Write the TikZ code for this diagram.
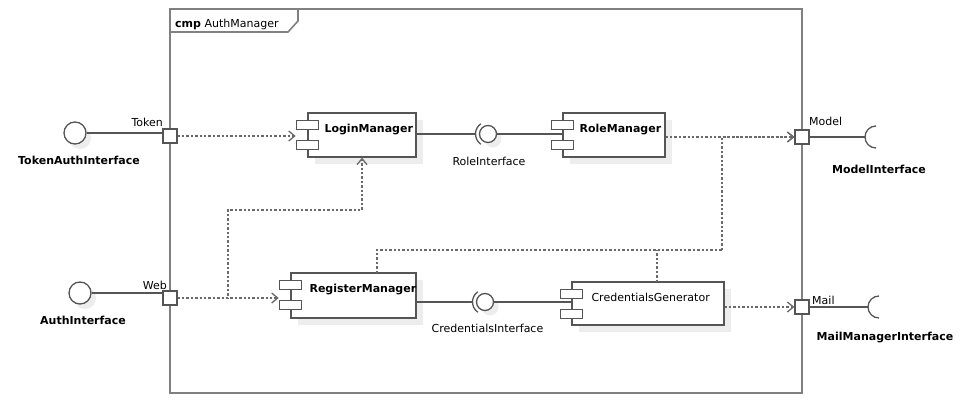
\documentclass[tikz,border=0pt]{standalone}
\usepackage{fontspec}
\setmainfont{DejaVu Sans}
\usetikzlibrary{arrows.meta,calc}
\definecolor{linec}{HTML}{555555}
\definecolor{framec}{HTML}{808080}
\definecolor{dotc}{HTML}{6A6A6A}
\definecolor{shadowc}{HTML}{EDEDED}
\begin{document}
\begin{tikzpicture}[x=1pt,y=-1pt,
  font=\fontsize{11}{13}\selectfont,
  comp/.style={draw=linec, line width=1.3pt, fill=white, inner sep=0,
    preaction={fill=shadowc, transform canvas={xshift=7pt,yshift=-7pt}}},
  icon/.style={draw=linec, line width=1.3pt, fill=white, minimum width=22, minimum height=9, inner sep=0},
  port/.style={draw=linec, line width=1.3pt, fill=white, minimum size=14, inner sep=0},
  lbl/.style={inner sep=0, anchor=base west},
  blbl/.style={inner sep=0, anchor=base west, font=\fontsize{11}{13}\selectfont\bfseries},
  ilbl/.style={inner sep=0, anchor=base},
  iblbl/.style={inner sep=0, anchor=base, font=\fontsize{11}{13}\selectfont\bfseries},
  ball/.style={circle, draw=linec, line width=1.3pt, fill=white, inner sep=0,
    preaction={fill=shadowc, transform canvas={xshift=5pt,yshift=-5pt}}},
  solidc/.style={draw=linec, line width=1.3pt},
  dep/.style={draw=dotc, line width=1.4pt, dash pattern=on 2.4pt off 2pt,
    -{Straight Barb[length=6pt,width=10pt,line width=1.3pt]}},
  depn/.style={draw=dotc, line width=1.4pt, dash pattern=on 2.4pt off 2pt}
]
\useasboundingbox (0,0) rectangle (962,404);
\fill[white] (0,0) rectangle (962,404);

% frame
\draw[framec, line width=2pt] (170,9) rectangle (802,393);
\draw[framec, line width=1.6pt] (170,32) -- (288,32) -- (298,21) -- (298,9);
\node[inner sep=0, anchor=base west] (title) at (175,28) {\textbf{cmp} AuthManager};

% components
\node[comp, minimum width=108, minimum height=44] (login) at (362,135) {};
\node[comp, minimum width=102, minimum height=44] (role) at (614,135) {};
\node[comp, minimum width=125, minimum height=45] (reg) at (353.5,295.5) {};
\node[comp, minimum width=152, minimum height=43] (cred) at (648,303.5) {};

\foreach \c in {login,role,reg,cred}{
  \node[icon] (\c I1) at ($(\c.north west)+(0,12.5)$) {};
  \node[icon] (\c I2) at ($(\c.north west)+(0,32.5)$) {};
}
\node[blbl] (loginL) at ($(login.north west)+(17,20)$) {LoginManager};
\node[blbl] (roleL) at ($(role.north west)+(17,20)$) {RoleManager};
\node[blbl] (regL) at ($(reg.north west)+(19,20)$) {RegisterManager};
\node[lbl] (credL) at ($(cred.north west)+(20,20)$) {CredentialsGenerator};

% ports
\node[port] (tport) at (170,136) {};
\node[port] (wport) at (170,298) {};
\node[port] (mport) at (802,137) {};
\node[port] (mailport) at (802,307) {};
\node[inner sep=0, anchor=base east] (tportL) at (163,126) {Token};
\node[inner sep=0, anchor=base east] (wportL) at (167,289) {Web};
\node[lbl] (mportL) at (809,125) {Model};
\node[lbl] (mailportL) at (812,304) {Mail};

% provided interfaces (external)
\node[ball, minimum size=22] (tai) at (75,133) {};
\node[ball, minimum size=22] (ai) at (80,293) {};
\node[iblbl] (taiL) at (79,164) {TokenAuthInterface};
\node[iblbl] (aiL) at (83,324) {AuthInterface};
\draw[solidc] (tai.east) -- (tai.east -| tport.west);
\draw[solidc] (ai.east) -- (ai.east -| wport.west);

% required interfaces (external)
\coordinate (msock) at (876,137);
\coordinate (mailsock) at (879,307);
\draw[solidc] (mport.east) -- ($(msock)+(-11,0)$);
\draw[solidc] ($(msock)+(0,-11)$) arc[start angle=-90, end angle=-270, radius=11];
\draw[solidc] (mailport.east) -- ($(mailsock)+(-11,0)$);
\draw[solidc] ($(mailsock)+(0,-11)$) arc[start angle=-90, end angle=-270, radius=11];
\node[iblbl] (msockL) at (879,173) {ModelInterface};
\node[iblbl] (mailsockL) at (885,340) {MailManagerInterface};

% internal ball-and-socket
\node[ball, minimum size=17] (rball) at (488,134) {};
\coordinate (rsock) at (476,134);
\draw[solidc] (rball.center) ++(125:12.5) arc[start angle=125, end angle=235, radius=12.5];
\draw[solidc] (login.east |- rball) -- (rsock);
\draw[solidc] (rball.east) -- (role.west |- rball);
\node[ilbl] (rballL) at (489,165) {RoleInterface};

\node[ball, minimum size=17] (cball) at (485,302) {};
\coordinate (csock) at (473,302);
\draw[solidc] (cball.center) ++(125:12.5) arc[start angle=125, end angle=235, radius=12.5];
\draw[solidc] (reg.east |- cball) -- (csock);
\draw[solidc] (cball.east) -- (cred.west |- cball);
\node[ilbl] (cballL) at (487.5,332) {CredentialsInterface};

% dependencies
\coordinate (j1) at (228,210);
\coordinate (j2) at (722,250);
\coordinate (rtop) at (377,273);
\coordinate (ctop) at (657,282);
\draw[dep] (tport.east) -- (tport.east -| loginI1.west);
\draw[dep] (wport.east) -- (wport.east -| regI1.west);
\draw[dep] (wport.east) -| (j1) -| (login.south);
\draw[dep] (role.east |- mport) -- (mport.west);
\draw[depn] (rtop) |- (j2);
\draw[depn] (ctop) -- (ctop |- j2);
\draw[dep] (j2) |- (mport.west);
\draw[dep] (cred.east |- mailport) -- (mailport.west);
\end{tikzpicture}
\end{document}
